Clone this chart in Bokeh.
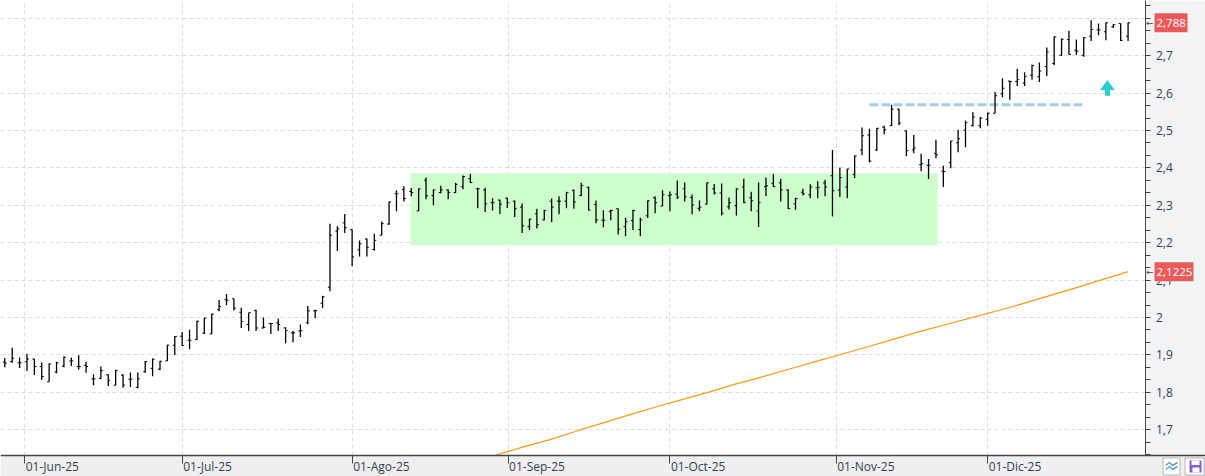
from bokeh.core.properties import value
from bokeh.embed import file_html
from bokeh.resources import INLINE
from bokeh.plotting import figure
from bokeh.models import FixedTicker, Range1d

bar_open = [
 1.881,1.882,1.879,1.882,1.889,1.869,1.828,1.854,1.870,1.884,
 1.869,1.872,1.836,1.837,1.847,1.819,1.846,1.835,1.813,1.855,
 1.864,1.862,1.884,1.926,1.950,1.939,1.941,1.958,1.956,2.021,
 2.048,2.050,2.014,1.981,2.019,1.972,1.984,1.986,1.972,1.959,
 1.964,1.986,2.018,2.038,2.081,2.231,2.253,2.235,2.181,2.210,
 2.182,2.220,2.250,2.331,2.342,2.337,2.285,2.367,2.326,2.334,
 2.341,2.334,2.350,2.371,2.344,2.341,2.307,2.314,2.319,2.311,
 2.295,2.243,2.277,2.261,2.311,2.311,2.311,2.340,2.326,2.348,
 2.302,2.260,2.284,2.291,2.243,2.259,2.235,2.272,2.320,2.298,
 2.326,2.330,2.344,2.321,2.292,2.303,2.344,2.333,2.296,2.299,
 2.349,2.320,2.285,2.350,2.359,2.360,2.341,2.304,2.335,2.328,
 2.347,2.360,2.379,2.341,2.349,2.382,2.448,2.488,2.448,2.509,
 2.513,2.557,2.499,2.448,2.409,2.407,2.439,2.391,2.414,2.467,
 2.501,2.513,2.513,2.530,2.546,2.598,2.632,2.631,2.627,2.648,
 2.644,2.671,2.679,2.701,2.743,2.715,2.701,2.752,2.769,2.764,
 2.777,2.786,2.752]
bar_high = [
 1.892,1.919,1.893,1.903,1.890,1.880,1.877,1.882,1.896,1.893,
 1.899,1.882,1.848,1.869,1.848,1.860,1.848,1.853,1.853,1.884,
 1.891,1.884,1.927,1.950,1.961,1.967,1.991,1.999,2.010,2.047,
 2.063,2.050,2.026,2.013,2.021,2.000,1.985,1.997,1.974,1.964,
 1.981,2.031,2.021,2.058,2.251,2.244,2.277,2.235,2.206,2.211,
 2.224,2.257,2.310,2.340,2.351,2.346,2.345,2.374,2.342,2.352,
 2.342,2.360,2.380,2.384,2.347,2.347,2.319,2.315,2.320,2.313,
 2.305,2.264,2.291,2.288,2.318,2.324,2.336,2.342,2.360,2.350,
 2.313,2.287,2.288,2.291,2.267,2.288,2.267,2.313,2.324,2.340,
 2.337,2.366,2.361,2.329,2.313,2.361,2.357,2.358,2.321,2.345,
 2.371,2.336,2.361,2.374,2.384,2.371,2.342,2.320,2.344,2.356,
 2.364,2.368,2.448,2.401,2.398,2.433,2.508,2.505,2.507,2.513,
 2.569,2.558,2.500,2.488,2.438,2.424,2.475,2.406,2.472,2.502,
 2.527,2.549,2.536,2.548,2.603,2.640,2.633,2.665,2.656,2.676,
 2.682,2.722,2.752,2.746,2.767,2.743,2.749,2.795,2.786,2.789,
 2.784,2.786,2.789]
bar_low = [
 1.867,1.879,1.865,1.857,1.846,1.833,1.828,1.851,1.867,1.870,
 1.860,1.852,1.819,1.835,1.817,1.819,1.812,1.814,1.811,1.852,
 1.843,1.859,1.884,1.900,1.924,1.915,1.940,1.956,1.956,2.017,
 2.033,2.019,1.972,1.964,1.964,1.971,1.956,1.964,1.931,1.934,
 1.948,1.982,1.998,2.025,2.070,2.178,2.226,2.137,2.163,2.163,
 2.179,2.220,2.248,2.284,2.310,2.324,2.285,2.316,2.300,2.332,
 2.316,2.333,2.343,2.359,2.292,2.282,2.286,2.277,2.293,2.269,
 2.226,2.234,2.238,2.260,2.255,2.276,2.292,2.291,2.325,2.287,
 2.252,2.241,2.260,2.222,2.217,2.234,2.217,2.266,2.279,2.298,
 2.284,2.317,2.310,2.276,2.284,2.303,2.329,2.273,2.289,2.273,
 2.306,2.284,2.242,2.324,2.349,2.310,2.290,2.288,2.326,2.319,
 2.319,2.324,2.270,2.322,2.319,2.373,2.434,2.415,2.445,2.490,
 2.512,2.514,2.431,2.439,2.391,2.370,2.426,2.349,2.399,2.442,
 2.455,2.511,2.506,2.513,2.546,2.589,2.582,2.619,2.619,2.636,
 2.630,2.646,2.675,2.699,2.703,2.702,2.697,2.739,2.755,2.741,
 2.774,2.739,2.739]
bar_close = [
 1.878,1.891,1.879,1.889,1.869,1.842,1.876,1.879,1.894,1.884,
 1.869,1.869,1.836,1.858,1.832,1.858,1.819,1.835,1.836,1.882,
 1.888,1.883,1.926,1.949,1.925,1.939,1.990,1.998,2.009,2.029,
 2.046,2.025,1.989,2.013,1.972,1.974,1.984,1.981,1.965,1.959,
 1.965,2.018,2.018,2.055,2.220,2.237,2.240,2.162,2.197,2.188,
 2.206,2.251,2.309,2.331,2.318,2.334,2.344,2.325,2.341,2.341,
 2.334,2.356,2.377,2.361,2.344,2.304,2.307,2.303,2.307,2.291,
 2.245,2.263,2.248,2.286,2.295,2.311,2.334,2.309,2.353,2.287,
 2.261,2.260,2.286,2.236,2.256,2.286,2.261,2.312,2.307,2.328,
 2.328,2.322,2.323,2.301,2.295,2.360,2.333,2.279,2.307,2.344,
 2.307,2.312,2.307,2.352,2.350,2.341,2.291,2.318,2.331,2.349,
 2.348,2.349,2.339,2.374,2.397,2.432,2.486,2.418,2.506,2.502,
 2.557,2.520,2.446,2.453,2.411,2.407,2.435,2.390,2.472,2.478,
 2.521,2.536,2.533,2.546,2.593,2.613,2.631,2.636,2.645,2.674,
 2.659,2.710,2.750,2.744,2.703,2.712,2.748,2.770,2.769,2.788,
 2.783,2.741,2.788]

ma_bar = [66.3,68.1,70.2,73.9,77.6,81.1,84.7,88.3,91.4,95.05,98.7,102.3,106.3,
          110.4,113.1,116.7,120.3,123.9,127.5,131.1,134.7,137.4,140.6,144.7,148.3,152]
ma_val = [1.631,1.642,1.654,1.674,1.698,1.719,1.741,1.762,1.779,1.799,1.821,1.840,1.863,
          1.886,1.901,1.921,1.942,1.963,1.982,2.001,2.020,2.035,2.054,2.078,2.100,2.1225]

month_ticks = [2.7, 24.0, 47.0, 68.1, 90.0, 112.5, 133.0]
month_labels = ["01-Jun-25","01-Jul-25","01-Ago-25","01-Sep-25","01-Oct-25","01-Nov-25","01-Dic-25"]
price_ticks = [1.7,1.8,1.9,2.0,2.1,2.2,2.3,2.4,2.5,2.6,2.7,2.8]
price_labels = ["1,7","1,8","1,9","2","2,1","2,2","2,3","2,4","2,5","2,6","2,7","2,8"]

zone_left, zone_right, zone_low, zone_high = 54.9, 126.2, 2.1925, 2.386
level_from, level_to, level_value = 117.0, 145.8, 2.569
arrow_x, arrow_tip, arrow_neck, arrow_base = 149.2, 2.635, 2.608, 2.593
last_close, last_ma = 2.788, 2.1225

W, H = 1205, 476
PX_PER_BAR, BAR0_PX = 7.39, 4.3
PX_PER_UNIT, Y2_PX = 374.0, 317.0
def bx(px): return (px - BAR0_PX) / PX_PER_BAR
def vy(px): return 2 + (Y2_PX - px) / PX_PER_UNIT

AXIS_X, AXIS_Y = bx(1144.5), vy(455)
FONT = value("Open Sans")
TXT = "#2f3f55"

p = figure(width=W, height=H, output_backend="svg", toolbar_location=None,
           x_range=Range1d(bx(0), bx(W)), y_range=Range1d(vy(H), vy(0)),
           y_axis_location="right", min_border=0)
p.outline_line_color = None
p.background_fill_color = "#ffffff"
p.border_fill_color = "#ffffff"

# panels around the chart
p.quad(left=[AXIS_X], right=[bx(W)], bottom=[AXIS_Y], top=[vy(0)], fill_color="#f2f3f5", line_color=None)
p.quad(left=[bx(0)], right=[bx(W)], bottom=[vy(H)], top=[AXIS_Y], fill_color="#efefef", line_color=None)

# axes
ya = p.yaxis[0]
ya.fixed_location = AXIS_X
ya.bounds = (AXIS_Y, vy(0))
ya.ticker = FixedTicker(ticks=price_ticks,
    minor_ticks=[1.6333,1.6667,1.7333,1.7667,1.8333,1.8667,1.9333,1.9667,2.0333,2.0667,2.1333,2.1667,
                 2.2333,2.2667,2.3333,2.3667,2.4333,2.4667,2.5333,2.5667,2.6333,2.6667,2.7333,2.7667,2.8333])
ya.major_label_overrides = dict(zip(price_ticks, price_labels))
ya.axis_line_color = "#444444"
ya.major_tick_line_color = "#444444"
ya.minor_tick_line_color = "#444444"
ya.major_tick_in = 0; ya.major_tick_out = 5
ya.minor_tick_in = 0; ya.minor_tick_out = 5
ya.major_label_standoff = 6
ya.major_label_text_font = "Open Sans"
ya.major_label_text_font_size = "12px"
ya.major_label_text_color = TXT

xa = p.xaxis[0]
xa.fixed_location = AXIS_Y
xa.ticker = FixedTicker(ticks=month_ticks, minor_ticks=[])
xa.major_label_overrides = {t: "" for t in month_ticks}
xa.axis_line_color = "#444444"
xa.axis_line_width = 1.5
xa.major_tick_line_color = "#444444"
xa.major_tick_in = 0; xa.major_tick_out = 8
xa.minor_tick_line_color = None

for g in (p.xgrid[0], p.ygrid[0]):
    g.grid_line_color = "#dddddd"
    g.grid_line_dash = "4 3"
    g.grid_line_width = 1
p.xgrid[0].bounds = (AXIS_Y, vy(0))
p.ygrid[0].bounds = (bx(0), AXIS_X)

# chart marks
p.quad(left=[zone_left], right=[zone_right], bottom=[zone_low], top=[zone_high],
       fill_color="#ccffcc", line_color=None)
p.line(ma_bar, ma_val, line_color="#ff9a16", line_width=1.2)
p.line([level_from, level_to], [level_value, level_value], line_color="#a9c9ee",
       line_width=3, line_dash="9 3")

idx = list(range(len(bar_close)))
BLK = "#000000"
p.segment(x0=idx, x1=idx, y0=bar_low, y1=bar_high, line_color=BLK, line_width=1.3)
p.segment(x0=[i-0.27 for i in idx], x1=idx, y0=bar_open, y1=bar_open, line_color=BLK, line_width=1)
p.segment(x0=idx, x1=[i+0.27 for i in idx], y0=bar_close, y1=bar_close, line_color=BLK, line_width=1)

p.patch([arrow_x, arrow_x+1.0, arrow_x+0.35, arrow_x+0.35, arrow_x-0.35, arrow_x-0.35, arrow_x-1.0],
        [arrow_tip, arrow_neck, arrow_neck, arrow_base, arrow_base, arrow_neck, arrow_neck],
        fill_color="#2dcdd0", line_color=None)

# x labels, set to the right of their ticks
p.text(x=month_ticks, y=[vy(466)]*len(month_ticks), text=month_labels, x_offset=1,
       text_font=FONT, text_font_size="12px", text_color=TXT,
       text_align="left", text_baseline="middle")

# price call-outs
def callout(val, txt, right_px):
    p.quad(left=[bx(1154)], right=[bx(right_px)], bottom=[val-9.5/PX_PER_UNIT], top=[val+9.5/PX_PER_UNIT],
           fill_color="#eb5a5a", line_color=None, level="annotation")
    p.text(x=[bx(1156)], y=[val], text=[txt], text_font=FONT, text_font_size="11.5px",
           text_color="#ffffff", text_align="left", text_baseline="middle", level="annotation")
    p.text(x=[bx(1145.5)], y=[val], text=["\u2190"], text_font=value("DejaVu Sans"), text_font_size="9px",
           text_color="#444444", text_align="left", text_baseline="middle", level="annotation")
callout(last_close, "2,788", 1187)
callout(last_ma, "2,1225", 1193)

# the two buttons in the corner
def box(l, r, t, b, fill, line=None):
    p.quad(left=[bx(l)], right=[bx(r)], top=[vy(t)], bottom=[vy(b)], fill_color=fill, line_color=line)
box(1162.5, 1179.5, 457.5, 474.5, "#ffffff", "#b5b5b5")
box(1184.5, 1203.5, 457.5, 474.5, "#ffffff", "#b5b5b5")
box(1189, 1201, 460, 472, "#8a5ec8")
box(1191, 1199, 460, 464.5, "#ffffff")
box(1192, 1199, 467, 472, "#ffffff")
for dy, col in ((0, "#7d93a8"), (4, "#5aa5dc")):
    xs = [1165, 1169, 1172, 1177]
    ys = [465+dy, 462+dy, 465+dy, 462+dy]
    p.line([bx(x) for x in xs], [vy(y) for y in ys], line_color=col, line_width=1.5)

open("out.html", "w").write(file_html(p, INLINE))
